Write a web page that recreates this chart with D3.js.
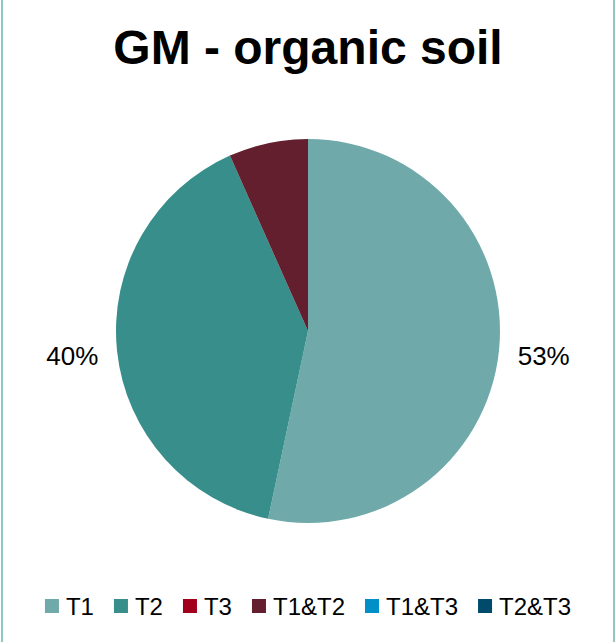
<!DOCTYPE html>
<html>
<head>
<meta charset="utf-8">
<script src="https://cdn.jsdelivr.net/npm/d3@7/dist/d3.min.js"></script>
<style>
  html, body { margin: 0; padding: 0; background: #fff; }
  svg { display: block; }
  text { font-family: "Liberation Sans", Arial, sans-serif; }
</style>
</head>
<body>
<svg id="chart" width="616" height="642"></svg>
<script>
// Sample counts per treatment group
const categories = ["T1", "T2", "T3", "T1&T2", "T1&T3", "T2&T3"];
const values = [8, 6, 0, 1, 0, 0];
const colors = ["#6fa9a9", "#378e8a", "#a0001c", "#631f2e", "#008fc6", "#004b6b"];
// Slices that carry a percentage label
const labelled = ["T1", "T2"];
const title = "GM - organic soil";

const W = 616, H = 642;
const svg = d3.select("#chart");

// Side frame lines
svg.append("line").attr("x1", 2).attr("x2", 2).attr("y1", 0).attr("y2", H)
  .attr("stroke", "#8cc8c6").attr("stroke-width", 2);
svg.append("line").attr("x1", 614).attr("x2", 614).attr("y1", 0).attr("y2", H)
  .attr("stroke", "#8cc8c6").attr("stroke-width", 2);

// Title
svg.append("text")
  .attr("x", 308).attr("y", 64)
  .attr("text-anchor", "middle")
  .attr("font-size", 48).attr("font-weight", "bold")
  .attr("fill", "#000")
  .text(title);

const cx = 308, cy = 331, r = 192;
const color = d3.scaleOrdinal().domain(categories).range(colors);
const data = categories.map((c, i) => ({ cat: c, value: values[i] }));
const total = d3.sum(values);

const pie = d3.pie().value(d => d.value).sort(null);
const arcs = pie(data);
const arc = d3.arc().innerRadius(0).outerRadius(r);

const g = svg.append("g").attr("transform", `translate(${cx},${cy})`);
g.selectAll("path")
  .data(arcs.filter(a => a.data.value > 0))
  .join("path")
  .attr("d", arc)
  .attr("fill", d => color(d.data.cat));

// Percentage labels outside the pie
const labelArc = d3.arc().innerRadius(r + 45).outerRadius(r + 45);
g.selectAll("text.pct")
  .data(arcs.filter(a => labelled.includes(a.data.cat)))
  .join("text")
  .attr("class", "pct")
  .attr("transform", d => {
    const [x, y] = labelArc.centroid(d);
    return `translate(${x},${y})`;
  })
  .attr("text-anchor", "middle")
  .attr("dy", "0.36em")
  .attr("font-size", 26)
  .attr("fill", "#000")
  .text(d => Math.round(d.data.value / total * 100) + "%");

// Legend
const fs = 24;
const legend = svg.append("g").attr("transform", "translate(0,606)");
const sw = 14, gapText = 7, gapItem = 20;
let x = 0;
const items = [];
categories.forEach(c => {
  const tmp = legend.append("text").attr("font-size", fs).text(c);
  const w = tmp.node().getComputedTextLength();
  tmp.remove();
  items.push({ c, x, w });
  x += sw + gapText + w + gapItem;
});
const totalW = x - gapItem;
const x0 = (W - totalW) / 2;
items.forEach(it => {
  legend.append("rect")
    .attr("x", x0 + it.x).attr("y", -7)
    .attr("width", sw).attr("height", sw)
    .attr("fill", color(it.c));
  legend.append("text")
    .attr("x", x0 + it.x + sw + gapText).attr("y", 0)
    .attr("dy", "0.36em")
    .attr("font-size", fs).attr("fill", "#000")
    .text(it.c);
});
</script>
</body>
</html>
